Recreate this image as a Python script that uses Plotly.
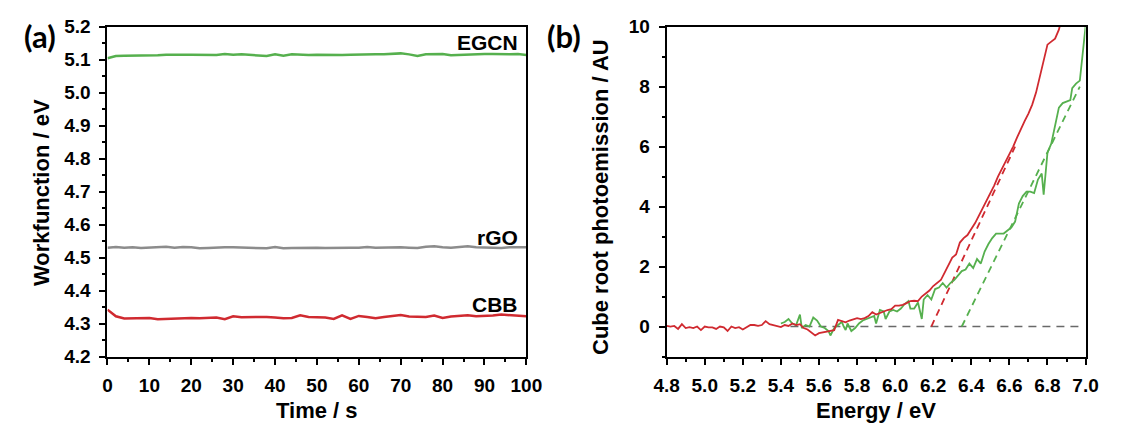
import plotly.graph_objects as go

# ---------------- (a) work function vs time ----------------
time_s = list(range(0, 101, 2))

egcn_wf = [5.104, 5.111, 5.112, 5.112, 5.112, 5.112, 5.113, 5.115, 5.116, 5.115,
           5.115, 5.114, 5.115, 5.114, 5.117, 5.115, 5.116, 5.114, 5.113, 5.111,
           5.116, 5.112, 5.116, 5.114, 5.114, 5.115, 5.114, 5.115, 5.114, 5.115,
           5.116, 5.115, 5.116, 5.116, 5.117, 5.119, 5.116, 5.111, 5.116, 5.117,
           5.117, 5.113, 5.114, 5.115, 5.118, 5.117, 5.117, 5.116, 5.116, 5.117,
           5.114]

rgo_wf = [4.530, 4.532, 4.530, 4.531, 4.529, 4.530, 4.532, 4.533, 4.530, 4.532,
          4.531, 4.528, 4.529, 4.531, 4.531, 4.531, 4.530, 4.531, 4.529, 4.528,
          4.532, 4.528, 4.529, 4.530, 4.530, 4.530, 4.529, 4.530, 4.531, 4.530,
          4.530, 4.532, 4.530, 4.531, 4.532, 4.531, 4.530, 4.529, 4.533, 4.534,
          4.531, 4.530, 4.532, 4.534, 4.531, 4.530, 4.531, 4.529, 4.531, 4.531,
          4.531]

cbb_wf = [4.342, 4.322, 4.315, 4.316, 4.318, 4.317, 4.313, 4.314, 4.317, 4.318,
          4.317, 4.316, 4.317, 4.318, 4.313, 4.322, 4.319, 4.320, 4.321, 4.320,
          4.318, 4.316, 4.317, 4.325, 4.320, 4.320, 4.318, 4.314, 4.325, 4.314,
          4.323, 4.320, 4.316, 4.320, 4.323, 4.326, 4.321, 4.320, 4.320, 4.324,
          4.317, 4.321, 4.322, 4.325, 4.322, 4.322, 4.324, 4.327, 4.325, 4.322,
          4.322]

# ---------------- (b) cube-root photoemission ----------------
cbb_energy = [4.80, 4.82, 4.84, 4.86, 4.88, 4.90, 4.92, 4.94, 4.96, 4.98,
              5.00, 5.02, 5.04, 5.06, 5.08, 5.10, 5.12, 5.14, 5.16, 5.18,
              5.20, 5.22, 5.24, 5.26, 5.28, 5.30, 5.32, 5.34, 5.36, 5.38,
              5.40, 5.42, 5.44, 5.46, 5.48, 5.50, 5.52, 5.54, 5.56, 5.58,
              5.60, 5.62, 5.64, 5.66, 5.68, 5.70, 5.72, 5.74, 5.76, 5.78,
              5.80, 5.82, 5.84, 5.86, 5.88, 5.90, 5.92, 5.94, 5.96, 5.98,
              6.00, 6.02, 6.04, 6.06, 6.08, 6.10, 6.12, 6.14, 6.16, 6.18,
              6.20, 6.22, 6.24, 6.26, 6.28, 6.30, 6.32, 6.34, 6.36, 6.38,
              6.40, 6.42, 6.44, 6.46, 6.48, 6.50, 6.52, 6.54, 6.56, 6.58,
              6.60, 6.62, 6.64, 6.66, 6.68, 6.70, 6.72, 6.74, 6.76, 6.78,
              6.80, 6.82, 6.84, 6.86, 6.88]
cbb_yield = [0.02, 0.00, 0.02, -0.08, 0.08, -0.05, -0.02, -0.05, 0.00, -0.12,
             0.00, -0.03, -0.03, -0.08, 0.00, -0.03, -0.15, 0.00, -0.05, -0.02,
             -0.10, -0.03, 0.05, 0.05, 0.02, 0.05, 0.18, 0.08, 0.05, 0.00,
             -0.02, 0.05, 0.02, 0.10, 0.05, 0.08, -0.05, -0.10, -0.20, -0.30,
             -0.22, -0.20, -0.18, -0.15, -0.12, 0.22, 0.18, 0.14, 0.20, 0.25,
             0.28, 0.25, 0.28, 0.35, 0.48, 0.40, 0.45, 0.52, 0.55, 0.58,
             0.70, 0.70, 0.72, 0.78, 0.85, 0.86, 0.85, 1.00, 1.10, 1.20,
             1.35, 1.45, 1.55, 1.80, 2.05, 2.30, 2.40, 2.80, 2.95, 3.05,
             3.25, 3.45, 3.70, 3.95, 4.15, 4.40, 4.70, 5.00, 5.25, 5.45,
             5.70, 6.00, 6.30, 6.60, 6.85, 7.10, 7.40, 7.80, 8.30, 8.85,
             9.40, 9.50, 9.60, 9.90, 10.40]

egcn_energy = [5.40, 5.42, 5.44, 5.46, 5.48, 5.50, 5.51, 5.53, 5.55, 5.57,
               5.59, 5.61, 5.63, 5.65, 5.66, 5.68, 5.70, 5.72, 5.73, 5.74,
               5.75, 5.77, 5.79, 5.81, 5.83, 5.85, 5.87, 5.89, 5.90, 5.92,
               5.94, 5.95, 5.97, 5.99, 6.01, 6.03, 6.05, 6.07, 6.08, 6.10,
               6.12, 6.14, 6.15, 6.17, 6.19, 6.21, 6.23, 6.25, 6.27, 6.29,
               6.31, 6.33, 6.35, 6.37, 6.39, 6.41, 6.43, 6.45, 6.47, 6.49,
               6.51, 6.53, 6.55, 6.57, 6.59, 6.61, 6.63, 6.65, 6.67, 6.69,
               6.71, 6.73, 6.75, 6.77, 6.78, 6.80, 6.82, 6.84, 6.86, 6.88,
               6.90, 6.92, 6.93, 6.95, 6.97, 6.99, 7.00]
egcn_yield = [0.10, 0.15, 0.25, 0.10, 0.05, 0.40, -0.05, 0.05, 0.00, 0.30,
              0.20, 0.00, -0.05, -0.15, -0.30, -0.05, 0.05, 0.15, 0.00, -0.12,
              0.10, -0.15, -0.05, 0.10, 0.20, 0.25, 0.30, 0.35, 0.10, 0.55,
              0.50, 0.25, 0.50, 0.55, 0.50, 0.60, 0.75, 0.85, 0.60, 0.60,
              0.80, 0.25, 0.90, 1.05, 0.90, 1.25, 1.30, 1.45, 1.30, 1.45,
              1.55, 1.70, 1.85, 1.90, 2.10, 1.95, 2.25, 2.10, 2.50, 2.75,
              2.95, 3.10, 3.10, 3.10, 3.20, 3.30, 3.50, 4.10, 4.35, 4.50,
              4.50, 4.45, 4.90, 5.10, 4.40, 5.80, 6.10, 6.70, 7.30, 7.45,
              7.50, 7.55, 7.95, 8.10, 8.20, 9.50, 10.00]

# linear threshold fits and the zero baseline
cbb_fit_x = [6.19, 6.63]
cbb_fit_y = [0.0, 6.0]
egcn_fit_x = [6.35, 6.97]
egcn_fit_y = [0.0, 8.0]
baseline_x = [5.45, 6.97]
baseline_y = [0.0, 0.0]

GREEN = "rgb(86,176,78)"
RED = "rgb(208,42,48)"
GREY = "rgb(140,140,140)"
DGREY = "rgb(105,105,105)"
FONT = "Liberation Sans"

fig = go.Figure()

# panel (a)
for y, c in [(egcn_wf, GREEN), (rgo_wf, GREY), (cbb_wf, RED)]:
    fig.add_trace(go.Scatter(x=time_s, y=y, mode="lines", xaxis="x", yaxis="y",
                             line=dict(color=c, width=2.5), showlegend=False))

# panel (b)
fig.add_trace(go.Scatter(x=baseline_x, y=baseline_y, mode="lines", xaxis="x2", yaxis="y2",
                         line=dict(color=DGREY, width=1.5, dash="8px,6px"), showlegend=False))
fig.add_trace(go.Scatter(x=cbb_fit_x, y=cbb_fit_y, mode="lines", xaxis="x2", yaxis="y2",
                         line=dict(color=RED, width=1.8, dash="7px,5px"), showlegend=False))
fig.add_trace(go.Scatter(x=egcn_fit_x, y=egcn_fit_y, mode="lines", xaxis="x2", yaxis="y2",
                         line=dict(color=GREEN, width=1.8, dash="7px,5px"), showlegend=False))
fig.add_trace(go.Scatter(x=egcn_energy, y=egcn_yield, mode="lines", xaxis="x2", yaxis="y2",
                         line=dict(color=GREEN, width=1.8), showlegend=False))
fig.add_trace(go.Scatter(x=cbb_energy, y=cbb_yield, mode="lines", xaxis="x2", yaxis="y2",
                         line=dict(color=RED, width=1.8), showlegend=False))

W, H = 1122, 437
ydom = [(H - 364) / H, (H - 17.5) / H]

tickfont = dict(family=FONT, size=19, color="black", weight="bold")
common = dict(showline=True, linecolor="black", linewidth=2, mirror=True,
              ticks="outside", ticklen=6, tickwidth=1.8, tickcolor="black",
              ticklabelstandoff=5,
              showgrid=False, zeroline=False, tickfont=tickfont)
minor_style = dict(ticks="outside", ticklen=3, tickwidth=1.5, tickcolor="black")

fig.update_layout(
    width=W, height=H,
    margin=dict(l=0, r=0, t=0, b=0),
    paper_bgcolor="white", plot_bgcolor="white",
    xaxis=dict(domain=[97 / W, 527 / W], range=[0, 100], dtick=10, tick0=0,
               minor=dict(dtick=5, **minor_style), anchor="y", **common),
    yaxis=dict(domain=ydom, range=[4.2, 5.2], dtick=0.1, tick0=4.2, tickformat=".1f",
               minor=dict(dtick=0.05, **minor_style), anchor="x", **common),
    xaxis2=dict(domain=[671 / W, 1101 / W], range=[4.8, 7.0], dtick=0.2, tick0=4.8,
                tickformat=".1f", minor=dict(dtick=0.1, **minor_style),
                anchor="y2", **common),
    yaxis2=dict(domain=ydom, range=[-1, 10], dtick=2, tick0=0,
                minor=dict(dtick=1, **minor_style), anchor="x2", **common),
)

title_font = dict(family=FONT, size=22, color="black", weight="bold")
label_font = dict(family=FONT, size=21, color="black", weight="bold")
panel_font = dict(family="Lato", size=31, color="black", weight="bold")

ann = [
    # series labels in (a)
    dict(x=98.5, y=5.153, xref="x", yref="y", text="EGCN", xanchor="right", yanchor="middle",
         showarrow=False, font=label_font),
    dict(x=98.5, y=4.562, xref="x", yref="y", text="rGO", xanchor="right", yanchor="middle",
         showarrow=False, font=label_font),
    dict(x=98.5, y=4.358, xref="x", yref="y", text="CBB", xanchor="right", yanchor="middle",
         showarrow=False, font=label_font),
    # axis titles
    dict(x=312 / W, y=1 - 421 / H, xref="paper", yref="paper", text="Time / s",
         xanchor="center", yanchor="middle", showarrow=False, font=title_font),
    dict(x=886 / W, y=1 - 421 / H, xref="paper", yref="paper", text="Energy / eV",
         xanchor="center", yanchor="middle", showarrow=False, font=title_font),
    dict(x=30 / W, y=1 - 192 / H, xref="paper", yref="paper", text="Workfunction / eV",
         textangle=-90, xanchor="center", yanchor="middle", showarrow=False, font=title_font),
    dict(x=603 / W, y=1 - 196 / H, xref="paper", yref="paper", text="Cube root photoemission / AU",
         textangle=-90, xanchor="center", yanchor="middle", showarrow=False, font=title_font),
    # panel letters
    dict(x=28 / W, y=1 - 27 / H, xref="paper", yref="paper", text="(a)",
         xanchor="center", yanchor="middle", showarrow=False, font=panel_font),
    dict(x=566 / W, y=1 - 27 / H, xref="paper", yref="paper", text="(b)",
         xanchor="center", yanchor="middle", showarrow=False, font=panel_font),
]
fig.update_layout(annotations=ann)

fig.write_html("out.html")
